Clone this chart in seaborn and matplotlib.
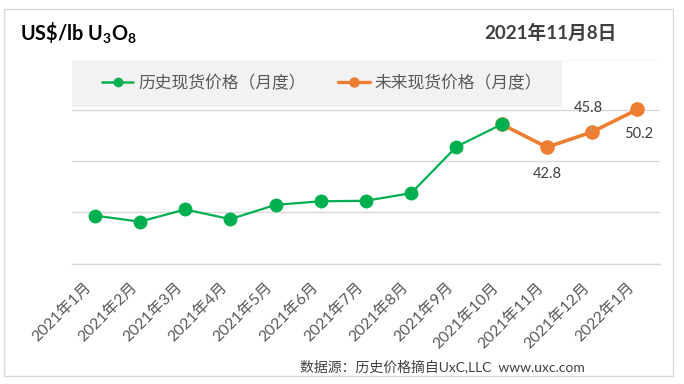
import matplotlib
matplotlib.use("Agg")
from matplotlib import pyplot as plt
from matplotlib.lines import Line2D
from matplotlib.patches import Rectangle
import seaborn as sns
import pandas as pd
import numpy as np

# data
months = ["2021年1月", "2021年2月", "2021年3月", "2021年4月", "2021年5月",
          "2021年6月", "2021年7月", "2021年8月", "2021年9月", "2021年10月",
          "2021年11月", "2021年12月", "2022年1月"]
hist_price = [29.4, 28.2, 30.6, 28.7, 31.5, 32.2, 32.3, 33.8, 42.9, 47.3]
future_price = [47.3, 42.8, 45.8, 50.2]
future_labels = ["", "42.8", "45.8", "50.2"]
legend_labels = ["历史现货价格（月度）", "未来现货价格（月度）"]

green = "#00B050"
orange = "#ED7D31"
grid_gray = "#D9D9D9"
text_gray = "#595959"

sns.set_theme(style="white")
plt.rcParams['font.family'] = ['Lato', 'Noto Sans CJK SC', 'DejaVu Sans']
plt.rcParams['mathtext.fontset'] = 'custom'
plt.rcParams['mathtext.rm'] = 'Lato:bold'
plt.rcParams['mathtext.it'] = 'Lato:bold'
plt.rcParams['mathtext.bf'] = 'Lato:bold'

hist_df = pd.DataFrame({"x": np.arange(len(hist_price)), "price": hist_price})
fut_df = pd.DataFrame({"x": np.arange(len(hist_price) - 1, len(months)), "price": future_price})

fig = plt.figure(figsize=(6.84, 3.84), dpi=100)
ax = fig.add_axes([72 / 684, 1 - 263.5 / 384, 588 / 684, 204 / 384])

# future first so the green Oct marker sits on top
sns.lineplot(data=fut_df, x="x", y="price", ax=ax, color=orange, marker="o",
             markersize=10.5, markeredgewidth=0, linewidth=2.6, zorder=3)
sns.lineplot(data=hist_df, x="x", y="price", ax=ax, color=green, marker="o",
             markersize=10, markeredgewidth=0, linewidth=1.6, zorder=4)

ax.set_xlim(-0.5, len(months) - 0.5)
ax.set_ylim(20, 60)
ax.set_yticks([20, 30, 40, 50, 60])
ax.yaxis.grid(True, color=grid_gray, linewidth=1)
ax.tick_params(axis="y", left=False, labelleft=False)
ax.set_xlabel("")
ax.set_ylabel("")
for s in ["top", "left", "right"]:
    ax.spines[s].set_visible(False)
ax.spines["bottom"].set_color(grid_gray)
ax.spines["bottom"].set_linewidth(1)

ax.set_xticks(np.arange(len(months)))
ax.set_xticklabels(months, rotation=45, ha="right", fontsize=11.3, color=text_gray)
ax.set_xticks(np.arange(-0.5, len(months)), minor=True)
ax.tick_params(axis="x", which="major", length=0, pad=12)
ax.tick_params(axis="x", which="minor", length=5, color=grid_gray, width=1, direction="out")

# data labels
offsets = [(0, 0), (0, -19), (-3, 17), (1, -18)]
for i, (lab, off) in enumerate(zip(future_labels, offsets)):
    if not lab:
        continue
    xv = fut_df["x"].iloc[i]
    yv = fut_df["price"].iloc[i]
    if off[1] > 0:
        ax.annotate(lab, (xv, yv), xytext=off, textcoords="offset points",
                    ha="center", va="center", fontsize=10.5, color="#404040",
                    arrowprops=dict(arrowstyle="-", color="#A6A6A6", lw=0.7,
                                    shrinkA=5, shrinkB=6), zorder=6)
    else:
        ax.annotate(lab, (xv, yv), xytext=off, textcoords="offset points",
                    ha="center", va="center", fontsize=10.5, color="#404040", zorder=6)

# legend band
ax.add_patch(Rectangle((0, (263.5 - 107) / 204), (562 - 72) / 588, 47.5 / 204,
                       transform=ax.transAxes, facecolor="#F2F2F2", edgecolor="none",
                       zorder=5, clip_on=False))
handles = [Line2D([], [], color=green, marker="o", markersize=7, markeredgewidth=0, lw=1.8),
           Line2D([], [], color=orange, marker="o", markersize=7.5, markeredgewidth=0, lw=2.4)]
leg = ax.legend(handles, legend_labels, loc="center",
                bbox_to_anchor=((322 - 72) / 588, (263.5 - 83) / 204), ncol=2,
                frameon=False, fontsize=12.1, labelcolor=text_gray, handlelength=1.9,
                handletextpad=0.3, columnspacing=1.9, borderaxespad=0)
leg.set_zorder(7)

# titles and source
fig.text(20 / 684, 1 - 33 / 384, r"US\$/lb U$_3$O$_8$", fontsize=14.3, fontweight="bold",
         ha="left", va="center", color="black")
fig.text(617 / 684, 1 - 33 / 384, "2021年11月8日", fontsize=13.5, fontweight="bold",
         ha="right", va="center", color="#404040")
fig.text(300 / 684, 1 - 366 / 384, "数据源：历史价格摘自UxC,LLC  www.uxc.com",
         fontsize=10, ha="left", va="center", color="#404040")

# outer frame
fig.add_artist(Rectangle((4 / 684, 1 - 376 / 384), 669 / 684, 367 / 384,
                         transform=fig.transFigure, fill=False,
                         edgecolor=grid_gray, linewidth=1))

fig.savefig("out.png", dpi=100, facecolor="white")
